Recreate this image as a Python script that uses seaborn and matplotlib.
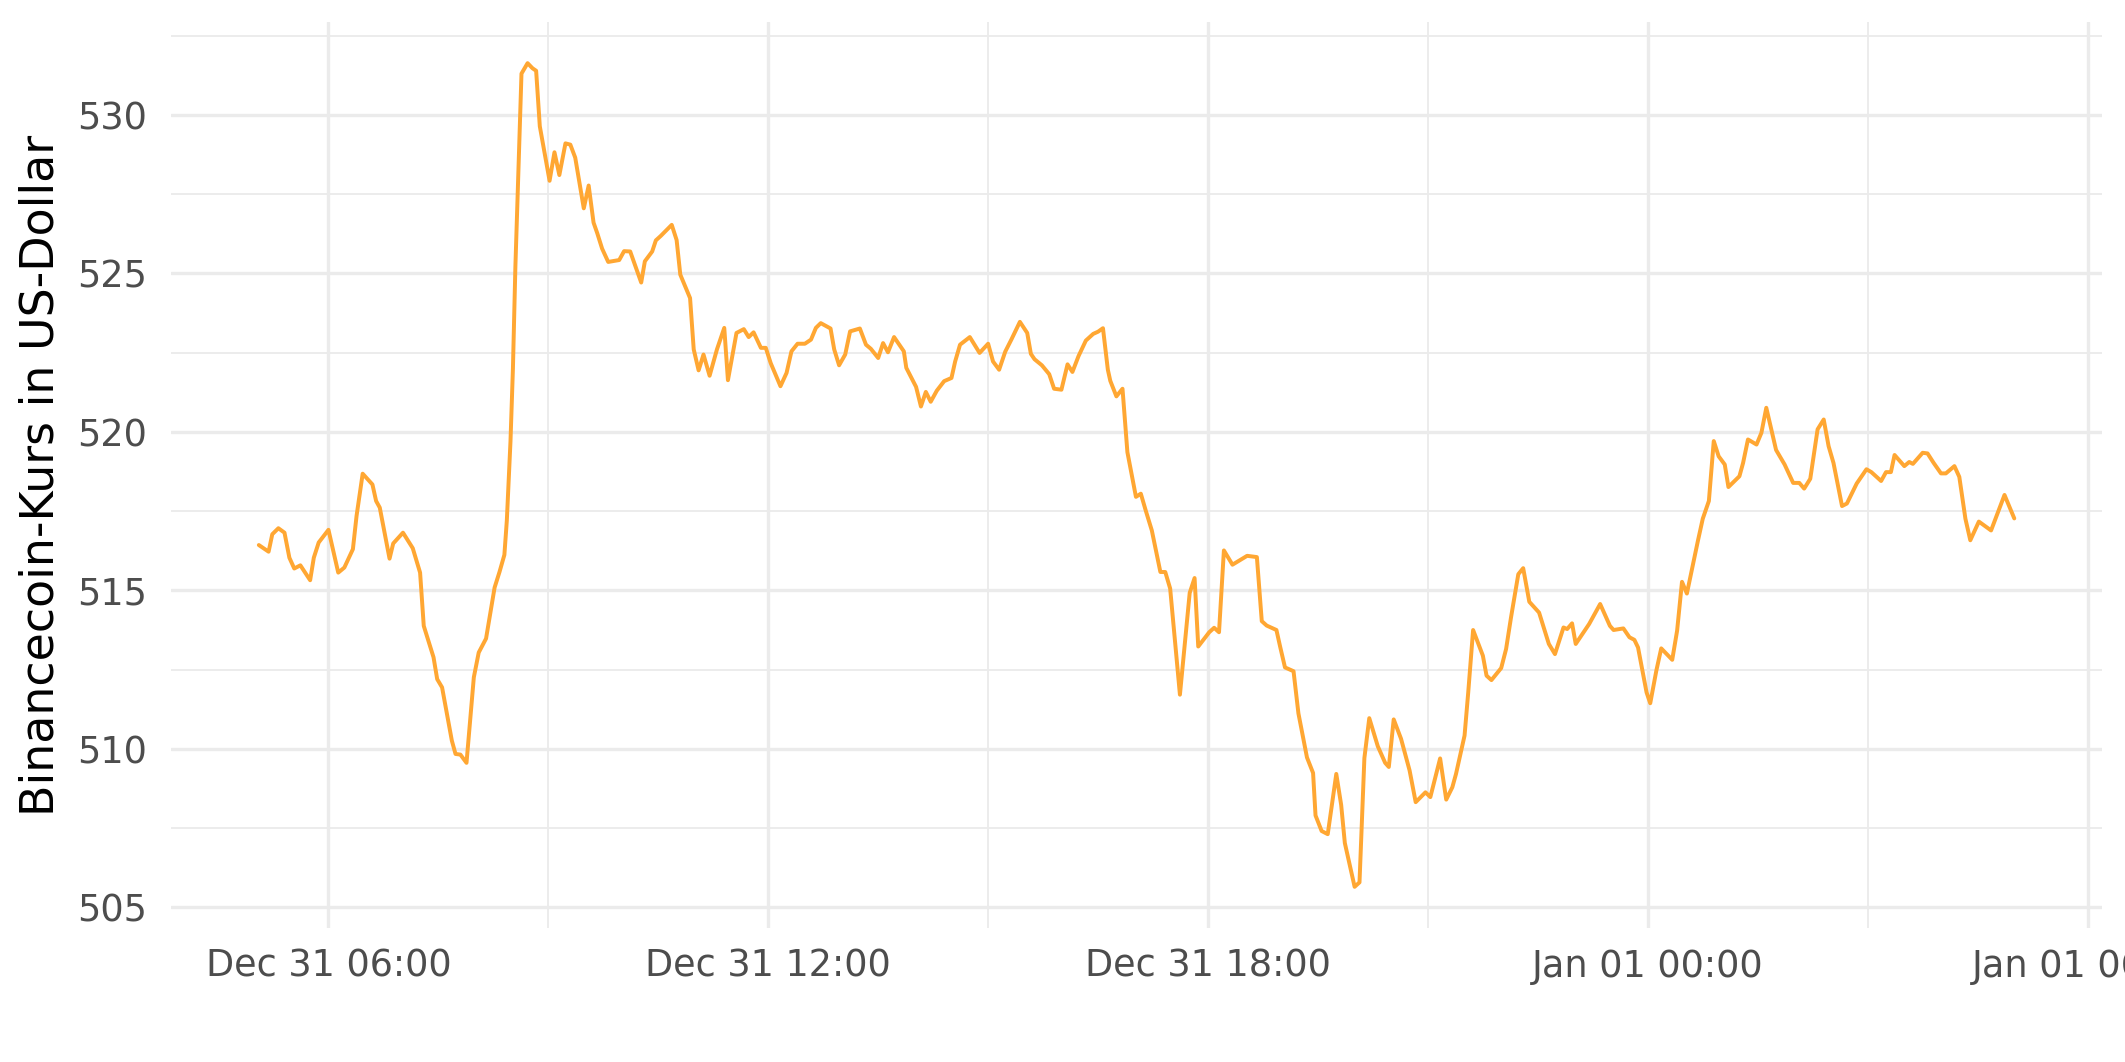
import pandas as pd
import matplotlib
matplotlib.use("Agg")
import matplotlib.pyplot as plt
import matplotlib.dates as mdates
from matplotlib.ticker import MultipleLocator
import seaborn as sns

# ==========================================
#   DATA
#   minutes after Dec 31 00:00, price in USD
# ==========================================
minutes = [
    303, 311, 314, 319, 324, 328, 332, 337, 345, 348, 352, 360, 368, 373, 380, 383,
    388, 396, 399, 402, 410, 413, 421, 429, 435, 438, 446, 449, 453, 461, 464, 468,
    473, 479, 483, 489, 496, 500, 504, 506, 509, 511, 513, 516, 518, 523, 527, 530,
    533, 541, 545, 549, 554, 558, 562, 569, 573, 577, 580, 584, 589, 598, 602, 607,
    616, 619, 625, 628, 632, 641, 645, 648, 656, 659, 663, 667, 672, 678, 684, 687,
    694, 700, 704, 708, 714, 718, 722, 730, 735, 739, 744, 750, 755, 759, 763, 771,
    774, 778, 783, 787, 795, 800, 804, 810, 814, 818, 823, 831, 833, 841, 845, 849,
    853, 858, 864, 870, 873, 877, 885, 893, 900, 904, 909, 914, 919, 926, 932, 935,
    938, 944, 950, 954, 960, 965, 969, 974, 980, 986, 990, 994, 998, 1000, 1005, 1010,
    1014, 1021, 1025, 1029, 1034, 1041, 1045, 1049, 1053, 1057, 1061, 1065, 1069, 1072, 1081, 1085,
    1089, 1093, 1100, 1112, 1120, 1124, 1128, 1136, 1139, 1143, 1150, 1154, 1161, 1166, 1168, 1173,
    1178, 1185, 1189, 1192, 1200, 1204, 1208, 1212, 1219, 1225, 1228, 1232, 1238, 1245, 1250, 1258,
    1262, 1270, 1275, 1280, 1283, 1290, 1293, 1297, 1305, 1308, 1312, 1320, 1324, 1328, 1334, 1338,
    1343, 1351, 1359, 1364, 1371, 1374, 1378, 1381, 1392, 1401, 1409, 1412, 1420, 1425, 1429, 1432,
    1439, 1442, 1447, 1451, 1460, 1464, 1468, 1472, 1481, 1485, 1490, 1494, 1498, 1503, 1506, 1515,
    1518, 1522, 1529, 1533, 1537, 1545, 1552, 1559, 1564, 1568, 1573, 1579, 1584, 1588, 1592, 1599,
    1603, 1611, 1619, 1623, 1631, 1635, 1639, 1642, 1650, 1654, 1657, 1665, 1669, 1674, 1680, 1684,
    1691, 1695, 1700, 1704, 1711, 1721, 1732, 1740,
]
price = [
    516.43, 516.22, 516.77, 516.96, 516.82, 516.03, 515.69, 515.79, 515.32, 516.03, 516.51, 516.91, 515.56, 515.72, 516.30, 517.35,
    518.68, 518.34, 517.82, 517.61, 516.00, 516.48, 516.82, 516.33, 515.56, 513.88, 512.89, 512.20, 511.94, 510.26, 509.84, 509.82,
    509.56, 512.26, 513.04, 513.48, 515.09, 515.58, 516.12, 517.20, 519.70, 522.00, 525.20, 528.80, 531.30, 531.63, 531.47, 531.39,
    529.64, 527.92, 528.82, 528.10, 529.10, 529.06, 528.65, 527.05, 527.77, 526.60, 526.27, 525.78, 525.36, 525.42, 525.70, 525.69,
    524.71, 525.38, 525.69, 526.04, 526.18, 526.53, 526.05, 524.96, 524.22, 522.60, 521.94, 522.44, 521.77, 522.60, 523.28, 521.63,
    523.12, 523.24, 522.99, 523.14, 522.65, 522.65, 522.17, 521.44, 521.86, 522.54, 522.78, 522.78, 522.91, 523.28, 523.43, 523.26,
    522.60, 522.10, 522.44, 523.17, 523.26, 522.75, 522.62, 522.33, 522.80, 522.51, 522.99, 522.54, 522.02, 521.42, 520.80, 521.26,
    520.95, 521.30, 521.60, 521.70, 522.22, 522.75, 522.99, 522.49, 522.78, 522.22, 521.96, 522.53, 522.91, 523.47, 523.12, 522.46,
    522.29, 522.10, 521.82, 521.36, 521.33, 522.13, 521.89, 522.39, 522.88, 523.09, 523.16, 523.27, 521.96, 521.61, 521.12, 521.36,
    519.36, 517.95, 518.05, 517.52, 516.89, 515.58, 515.58, 515.06, 513.37, 511.71, 513.30, 514.92, 515.39, 513.23, 513.68, 513.82,
    513.68, 516.26, 515.81, 516.09, 516.05, 514.03, 513.89, 513.75, 513.23, 512.57, 512.45, 511.12, 509.73, 509.24, 507.90, 507.41,
    507.31, 509.21, 508.23, 507.03, 505.65, 505.79, 509.71, 510.97, 510.08, 509.56, 509.43, 510.93, 510.32, 509.32, 508.32, 508.63,
    508.48, 509.70, 508.40, 508.79, 509.21, 510.42, 511.78, 513.75, 512.94, 512.31, 512.17, 512.55, 513.15, 514.14, 515.51, 515.70,
    514.64, 514.30, 513.31, 512.99, 513.83, 513.78, 513.96, 513.31, 513.94, 514.57, 513.88, 513.75, 513.80, 513.52, 513.44, 513.20,
    511.78, 511.44, 512.47, 513.17, 512.81, 513.73, 515.27, 514.90, 516.56, 517.26, 517.82, 519.71, 519.23, 518.97, 518.26, 518.60,
    519.02, 519.76, 519.60, 519.97, 520.76, 519.43, 518.97, 518.39, 518.39, 518.21, 518.52, 520.08, 520.39, 519.55, 519.02, 517.66,
    517.74, 518.37, 518.82, 518.73, 518.45, 518.73, 518.73, 519.27, 518.92, 519.05, 518.99, 519.34, 519.32, 519.02, 518.69, 518.69,
    518.92, 518.58, 517.26, 516.58, 517.17, 516.89, 518.01, 517.27,
]

y_label = "Binancecoin-Kurs in US-Dollar"
line_color = "#FFA733"
grid_color = "#EBEBEB"
text_color = "#4D4D4D"

df = pd.DataFrame({
    "time": pd.Timestamp("2021-12-31") + pd.to_timedelta(minutes, unit="min"),
    "price": price,
})

# ==========================================
#   PLOT
# ==========================================
sns.set_theme(style="white")
plt.rcParams["font.family"] = ["DejaVu Sans"]

fig = plt.figure(figsize=(2125 / 300, 1062 / 300), dpi=300)
ax = fig.add_axes([0.0805, 0.1262, 0.9087, 0.8531])

sns.lineplot(data=df, x="time", y="price", color=line_color, linewidth=0.95,
             estimator=None, ax=ax)

# limits like ggplot (5% expansion)
t0, t1 = df["time"].min(), df["time"].max()
pad_t = (t1 - t0) * 0.05
ax.set_xlim(t0 - pad_t, t1 + pad_t)
p0, p1 = df["price"].min(), df["price"].max()
pad_p = (p1 - p0) * 0.05
ax.set_ylim(p0 - pad_p, p1 + pad_p)

ax.xaxis.set_major_locator(mdates.HourLocator(byhour=[0, 6, 12, 18]))
ax.xaxis.set_minor_locator(mdates.HourLocator(byhour=[3, 9, 15, 21]))
ax.xaxis.set_major_formatter(mdates.DateFormatter("%b %d %H:%M"))
ax.yaxis.set_major_locator(MultipleLocator(5))
ax.yaxis.set_minor_locator(MultipleLocator(2.5))

ax.grid(which="major", color=grid_color, linewidth=0.8)
ax.grid(which="minor", color=grid_color, linewidth=0.45)
ax.set_axisbelow(True)
for s in ax.spines.values():
    s.set_visible(False)

ax.tick_params(axis="both", which="both", length=0, labelsize=8.8, labelcolor=text_color)
ax.tick_params(axis="x", pad=4.8)
ax.tick_params(axis="y", pad=5.8)

ax.set_xlabel("")
ax.set_ylabel(y_label, fontsize=11, color="black")
ax.yaxis.set_label_coords(-0.0675, 0.5)
ax.yaxis.label.set_va("center")

fig.savefig("out.png", dpi=300, facecolor="white")
